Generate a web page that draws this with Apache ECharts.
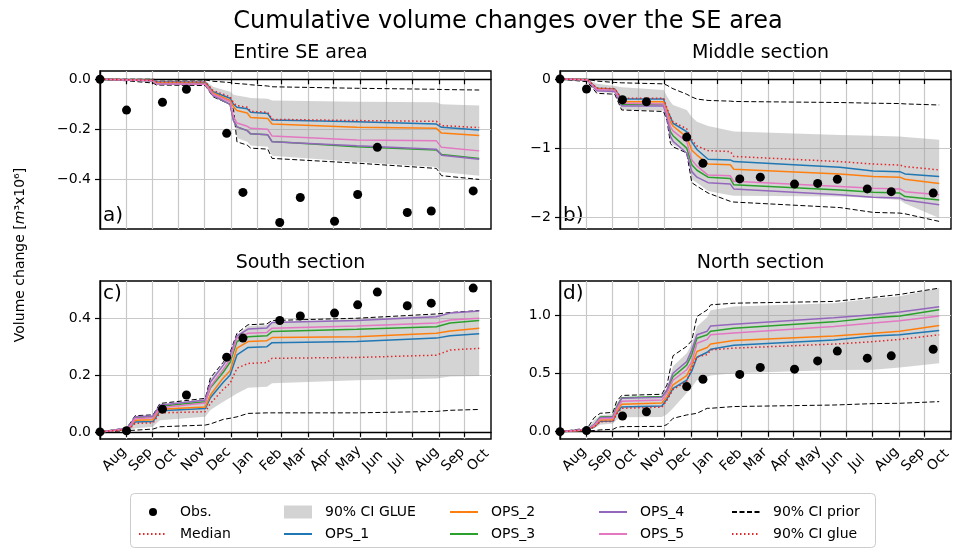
<!DOCTYPE html>
<html>
<head>
<meta charset="utf-8">
<script src="https://cdn.jsdelivr.net/npm/echarts@6/dist/echarts.min.js"></script>
<style>
  html, body { margin: 0; padding: 0; background: #fff; }
  #chart { width: 954px; height: 549px; }
</style>
</head>
<body>
<div id="chart"></div>
<script>
// month ticks on the shared time axis
const monthTicks = ['2021-08-01', '2021-09-01', '2021-10-01', '2021-11-01', '2021-12-01', '2022-01-01',
  '2022-02-01', '2022-03-01', '2022-04-01', '2022-05-01', '2022-06-01', '2022-07-01',
  '2022-08-01', '2022-09-01', '2022-10-01'];
const monthNames = ['Jan', 'Feb', 'Mar', 'Apr', 'May', 'Jun', 'Jul', 'Aug', 'Sep', 'Oct', 'Nov', 'Dec'];

// survey dates (Obs.)
const obsDates = ['2021-08-01', '2021-09-01', '2021-10-13', '2021-11-10', '2021-12-27', '2022-01-15',
  '2022-02-27', '2022-03-23', '2022-05-02', '2022-05-29', '2022-06-21', '2022-07-26', '2022-08-23', '2022-10-11'];

// a) Entire SE area
const obsA = [0, -0.123, -0.092, -0.04, -0.216, -0.452, -0.572, -0.472, -0.567, -0.46, -0.272, -0.532, -0.526, -0.446];
const datesA = ['2021-08-01', '2021-09-01', '2021-10-02', '2021-10-06', '2021-12-02', '2021-12-11', '2021-12-31',
  '2022-01-04', '2022-01-08', '2022-01-20', '2022-01-24', '2022-02-13', '2022-02-18', '2022-05-28',
  '2022-08-29', '2022-09-04', '2022-10-18'];
const ops1A = [0, -0.002, -0.004, -0.01, -0.012, -0.05, -0.076, -0.1, -0.112, -0.118, -0.132, -0.137, -0.163, -0.17, -0.179, -0.192, -0.203];
const ops2A = [0, -0.002, -0.005, -0.014, -0.016, -0.055, -0.085, -0.11, -0.125, -0.135, -0.153, -0.157, -0.179, -0.192, -0.196, -0.215, -0.225];
const ops3A = [0, -0.003, -0.006, -0.018, -0.02, -0.065, -0.1, -0.165, -0.19, -0.205, -0.218, -0.222, -0.249, -0.27, -0.283, -0.3, -0.316];
const ops4A = [0, -0.003, -0.006, -0.018, -0.02, -0.065, -0.1, -0.165, -0.19, -0.205, -0.218, -0.222, -0.25, -0.266, -0.28, -0.303, -0.319];
const ops5A = [0, -0.003, -0.006, -0.018, -0.02, -0.06, -0.09, -0.15, -0.175, -0.188, -0.196, -0.2, -0.227, -0.243, -0.246, -0.272, -0.286];
const medA = [0, -0.002, -0.004, -0.01, -0.01, -0.045, -0.07, -0.095, -0.105, -0.112, -0.128, -0.132, -0.16, -0.165, -0.168, -0.185, -0.193];
const priorHiA = [0, 0, 0, -0.002, -0.003, -0.008, -0.013, -0.016, -0.017, -0.02, -0.022, -0.027, -0.03, -0.036, -0.04, -0.041, -0.043];
const priorLoA = [0, -0.006, -0.015, -0.023, -0.025, -0.07, -0.1, -0.12, -0.25, -0.263, -0.275, -0.279, -0.316, -0.335, -0.356, -0.385, -0.4];
const glueHiA = [0, -0.001, -0.002, -0.005, -0.005, -0.03, -0.05, -0.062, -0.065, -0.072, -0.075, -0.078, -0.085, -0.09, -0.092, -0.1, -0.105];
const glueLoA = [0, -0.005, -0.012, -0.022, -0.024, -0.065, -0.095, -0.115, -0.235, -0.25, -0.265, -0.27, -0.305, -0.33, -0.35, -0.37, -0.385];

// b) Middle section
const obsB = [0, -0.145, -0.3, -0.33, -0.84, -1.22, -1.445, -1.42, -1.52, -1.51, -1.45, -1.59, -1.63, -1.65];
const datesB = ['2021-08-01', '2021-09-02', '2021-09-13', '2021-10-04', '2021-10-12', '2021-11-30', '2021-12-04',
  '2021-12-08', '2021-12-11', '2021-12-27', '2022-01-02', '2022-01-08', '2022-01-21', '2022-02-16',
  '2022-02-20', '2022-06-24', '2022-08-02', '2022-09-02', '2022-09-08', '2022-10-18'];
const ops1B = [0, -0.01, -0.135, -0.145, -0.29, -0.29, -0.45, -0.55, -0.64, -0.76, -0.91, -1.02, -1.16, -1.17, -1.195, -1.276, -1.33, -1.34, -1.373, -1.41];
const ops2B = [0, -0.01, -0.14, -0.15, -0.33, -0.33, -0.45, -0.62, -0.68, -0.84, -1.03, -1.1, -1.23, -1.24, -1.305, -1.373, -1.41, -1.42, -1.45, -1.51];
const ops3B = [0, -0.012, -0.15, -0.16, -0.37, -0.37, -0.52, -0.76, -0.82, -1.0, -1.24, -1.32, -1.42, -1.44, -1.53, -1.604, -1.64, -1.65, -1.7, -1.75];
const ops4B = [0, -0.015, -0.17, -0.18, -0.39, -0.39, -0.55, -0.83, -0.9, -1.07, -1.34, -1.42, -1.5, -1.52, -1.59, -1.676, -1.71, -1.72, -1.75, -1.82];
const ops5B = [0, -0.012, -0.15, -0.16, -0.35, -0.36, -0.5, -0.69, -0.75, -0.906, -1.17, -1.26, -1.39, -1.4, -1.48, -1.556, -1.58, -1.59, -1.63, -1.676];
const medB = [0, -0.01, -0.13, -0.14, -0.28, -0.28, -0.42, -0.55, -0.62, -0.72, -0.88, -0.968, -1.036, -1.05, -1.12, -1.195, -1.23, -1.245, -1.267, -1.315];
const priorHiB = [0, -0.005, -0.03, -0.05, -0.055, -0.07, -0.09, -0.12, -0.14, -0.22, -0.26, -0.29, -0.31, -0.32, -0.325, -0.34, -0.35, -0.355, -0.36, -0.376];
const priorLoB = [0, -0.04, -0.207, -0.22, -0.448, -0.47, -0.6, -0.93, -0.98, -1.07, -1.5, -1.55, -1.65, -1.77, -1.78, -1.86, -1.93, -1.94, -1.95, -2.06];
const glueHiB = [0, -0.005, -0.07, -0.1, -0.12, -0.16, -0.25, -0.33, -0.376, -0.45, -0.55, -0.617, -0.68, -0.75, -0.76, -0.81, -0.82, -0.83, -0.84, -0.88];
const glueLoB = [0, -0.035, -0.19, -0.2, -0.44, -0.46, -0.58, -0.9, -0.95, -1.04, -1.45, -1.5, -1.62, -1.68, -1.69, -1.7, -1.72, -1.75, -1.8, -2.01];

// c) South section
const obsC = [0, 0.004, 0.08, 0.13, 0.263, 0.33, 0.392, 0.408, 0.418, 0.447, 0.492, 0.444, 0.453, 0.506];
const datesC = ['2021-08-01', '2021-09-01', '2021-09-05', '2021-09-11', '2021-10-02', '2021-10-04', '2021-10-10',
  '2021-12-02', '2021-12-08', '2021-12-23', '2021-12-31', '2022-01-08', '2022-01-21', '2022-02-12',
  '2022-02-18', '2022-05-28', '2022-08-29', '2022-09-14', '2022-10-18'];
const ops1C = [0, 0.01, 0.016, 0.035, 0.037, 0.045, 0.074, 0.082, 0.12, 0.175, 0.2, 0.271, 0.297, 0.3, 0.314, 0.318, 0.33, 0.338, 0.345];
const ops2C = [0, 0.01, 0.018, 0.041, 0.043, 0.05, 0.08, 0.088, 0.13, 0.19, 0.215, 0.295, 0.318, 0.321, 0.332, 0.335, 0.347, 0.355, 0.365];
const ops3C = [0, 0.011, 0.022, 0.05, 0.053, 0.062, 0.09, 0.106, 0.155, 0.21, 0.245, 0.318, 0.335, 0.338, 0.353, 0.361, 0.37, 0.383, 0.392];
const ops4C = [0, 0.012, 0.025, 0.053, 0.056, 0.065, 0.094, 0.112, 0.175, 0.235, 0.27, 0.338, 0.362, 0.366, 0.385, 0.392, 0.405, 0.418, 0.425];
const ops5C = [0, 0.011, 0.02, 0.047, 0.05, 0.058, 0.085, 0.102, 0.16, 0.22, 0.255, 0.33, 0.347, 0.35, 0.365, 0.373, 0.383, 0.394, 0.4];
const medC = [0, 0.008, 0.012, 0.03, 0.032, 0.04, 0.067, 0.071, 0.1, 0.15, 0.171, 0.224, 0.241, 0.244, 0.259, 0.262, 0.27, 0.288, 0.294];
const priorHiC = [0, 0.014, 0.03, 0.057, 0.06, 0.07, 0.1, 0.118, 0.19, 0.245, 0.28, 0.347, 0.377, 0.38, 0.392, 0.4, 0.415, 0.42, 0.427];
const priorLoC = [0, 0.004, 0.005, 0.006, 0.01, 0.012, 0.018, 0.024, 0.028, 0.044, 0.048, 0.053, 0.065, 0.067, 0.067, 0.067, 0.072, 0.076, 0.079];
const glueHiC = [0, 0.013, 0.028, 0.055, 0.058, 0.067, 0.097, 0.115, 0.186, 0.24, 0.275, 0.342, 0.372, 0.376, 0.388, 0.397, 0.412, 0.418, 0.425];
const glueLoC = [0, 0.006, 0.008, 0.012, 0.018, 0.025, 0.041, 0.053, 0.077, 0.106, 0.12, 0.135, 0.155, 0.159, 0.171, 0.182, 0.188, 0.195, 0.197];

// d) North section
const obsD = [0, 0.009, 0.134, 0.17, 0.386, 0.449, 0.49, 0.55, 0.535, 0.606, 0.69, 0.629, 0.649, 0.706];
const datesD = ['2021-08-01', '2021-09-02', '2021-09-10', '2021-09-17', '2021-10-02', '2021-10-06', '2021-10-12',
  '2021-11-28', '2021-12-04', '2021-12-11', '2021-12-27', '2022-01-02', '2022-01-08', '2022-01-20',
  '2022-01-24', '2022-02-20', '2022-06-17', '2022-08-02', '2022-09-02', '2022-10-18'];
const ops1D = [0, 0.015, 0.04, 0.09, 0.092, 0.16, 0.21, 0.22, 0.28, 0.37, 0.44, 0.52, 0.637, 0.68, 0.705, 0.74, 0.785, 0.82, 0.83, 0.866];
const ops2D = [0, 0.015, 0.045, 0.1, 0.102, 0.17, 0.235, 0.245, 0.3, 0.4, 0.48, 0.57, 0.686, 0.72, 0.75, 0.78, 0.82, 0.843, 0.86, 0.908];
const ops3D = [0, 0.02, 0.06, 0.125, 0.13, 0.21, 0.29, 0.3, 0.35, 0.47, 0.57, 0.66, 0.8, 0.83, 0.86, 0.885, 0.94, 0.975, 0.99, 1.043];
const ops4D = [0, 0.02, 0.06, 0.12, 0.125, 0.2, 0.285, 0.295, 0.36, 0.5, 0.6, 0.7, 0.83, 0.86, 0.905, 0.92, 0.975, 1.0, 1.025, 1.07];
const ops5D = [0, 0.018, 0.055, 0.11, 0.115, 0.19, 0.26, 0.27, 0.33, 0.44, 0.53, 0.6, 0.757, 0.79, 0.83, 0.845, 0.9, 0.93, 0.95, 0.99];
const medD = [0, 0.014, 0.04, 0.085, 0.088, 0.15, 0.2, 0.21, 0.27, 0.36, 0.43, 0.55, 0.64, 0.66, 0.7, 0.715, 0.75, 0.771, 0.79, 0.829];
const priorHiD = [0, 0.03, 0.12, 0.157, 0.165, 0.257, 0.31, 0.32, 0.4, 0.65, 0.73, 0.78, 0.986, 1.043, 1.086, 1.1, 1.115, 1.15, 1.175, 1.229];
const priorLoD = [0, 0.005, 0.01, 0.015, 0.02, 0.035, 0.043, 0.045, 0.06, 0.114, 0.143, 0.15, 0.157, 0.2, 0.2, 0.215, 0.228, 0.24, 0.243, 0.257];
const glueHiD = [0, 0.025, 0.1, 0.14, 0.15, 0.24, 0.29, 0.3, 0.37, 0.56, 0.671, 0.75, 0.9, 0.98, 1.04, 1.071, 1.1, 1.14, 1.16, 1.229];
const glueLoD = [0, 0.01, 0.03, 0.06, 0.07, 0.1, 0.123, 0.125, 0.15, 0.2, 0.33, 0.38, 0.443, 0.471, 0.48, 0.5, 0.528, 0.53, 0.55, 0.586];

// y ticks per panel
const yTicksA = [-0.4, -0.2, 0];
const yTicksB = [-2, -1, 0];
const yTicksC = [0, 0.2, 0.4];
const yTicksD = [0, 0.5, 1.0];

const opsNames = ['OPS_1', 'OPS_2', 'OPS_3', 'OPS_4', 'OPS_5'];
const opsColors = ['#1f77b4', '#ff7f0e', '#2ca02c', '#9467bd', '#e377c2'];

function toTime(s) {
  const p = s.split('-');
  return Date.UTC(+p[0], +p[1] - 1, +p[2]);
}

const panels = [
  { title: 'Entire SE area', tag: 'a)', dates: datesA, obs: obsA, med: medA, ops: [ops1A, ops2A, ops3A, ops4A, ops5A],
    priorHi: priorHiA, priorLo: priorLoA, glueHi: glueHiA, glueLo: glueLoA, ticks: yTicksA, dec: 1, min: -0.598, max: 0.033 },
  { title: 'Middle section', tag: 'b)', dates: datesB, obs: obsB, med: medB, ops: [ops1B, ops2B, ops3B, ops4B, ops5B],
    priorHi: priorHiB, priorLo: priorLoB, glueHi: glueHiB, glueLo: glueLoB, ticks: yTicksB, dec: 0, min: -2.17, max: 0.116 },
  { title: 'South section', tag: 'c)', dates: datesC, obs: obsC, med: medC, ops: [ops1C, ops2C, ops3C, ops4C, ops5C],
    priorHi: priorHiC, priorLo: priorLoC, glueHi: glueHiC, glueLo: glueLoC, ticks: yTicksC, dec: 1, min: -0.025, max: 0.531 },
  { title: 'North section', tag: 'd)', dates: datesD, obs: obsD, med: medD, ops: [ops1D, ops2D, ops3D, ops4D, ops5D],
    priorHi: priorHiD, priorLo: priorLoD, glueHi: glueHiD, glueLo: glueLoD, ticks: yTicksD, dec: 1, min: -0.063, max: 1.29 }
];

const gridPos = [
  { left: 100, top: 71 }, { left: 560, top: 71 },
  { left: 100, top: 281 }, { left: 560, top: 281 }
];
const gridW = 391, gridH = 158;
const xMin = toTime('2021-08-01');
const xMax = toTime('2022-10-31') + 19 * 3600 * 1000;
const tickTimes = monthTicks.map(toTime);
const font = 'DejaVu Sans';
const bandFill = 'rgba(160,160,160,0.45)';

const grids = [], xAxes = [], yAxes = [], series = [], titles = [], texts = [];

titles.push({
  text: 'Cumulative volume changes over the SE area', left: 503, top: 5, textAlign: 'center',
  textStyle: { fontSize: 24, fontWeight: 'normal', color: '#000', fontFamily: font }
});

panels.forEach((p, i) => {
  const g = gridPos[i];
  grids.push({ left: g.left, top: g.top, width: gridW, height: gridH, show: true,
    borderColor: '#000', borderWidth: 1.4, backgroundColor: 'transparent' });
  xAxes.push({
    type: 'value', gridIndex: i, min: xMin, max: xMax,
    axisLine: { show: true, lineStyle: { color: '#000', width: 1.4 } },
    axisTick: { show: true, customValues: tickTimes, length: 5, lineStyle: { color: '#000', width: 1.2 } },
    axisLabel: {
      show: i >= 2, customValues: tickTimes, rotate: 45, align: 'left', verticalAlign: 'top', margin: 25,
      fontSize: 14, color: '#000', fontFamily: font,
      formatter: v => monthNames[new Date(v).getUTCMonth()]
    },
    splitLine: { show: true, lineStyle: { color: '#c8c8c8', width: 1.2 } }
  });
  yAxes.push({
    type: 'value', gridIndex: i, min: p.min, max: p.max,
    axisLine: { show: true, lineStyle: { color: '#000', width: 1.4 } },
    axisTick: { show: true, customValues: p.ticks, length: 5, lineStyle: { color: '#000', width: 1.2 } },
    axisLabel: {
      customValues: p.ticks, fontSize: 14, color: '#000', fontFamily: font, margin: 9,
      formatter: v => v.toFixed(p.dec).replace('-', '\u2212')
    },
    splitLine: { show: true, lineStyle: { color: '#c8c8c8', width: 1.2 } }
  });
  titles.push({
    text: p.title, left: g.left + gridW / 2, top: g.top - 32, textAlign: 'center',
    textStyle: { fontSize: 19, fontWeight: 'normal', color: '#000', fontFamily: font }
  });
  const tagTop = i < 2;
  texts.push({
    type: 'text', left: g.left + 3, top: tagTop ? g.top + gridH - 23 : g.top + 3,
    style: { text: p.tag, fontSize: 20, fill: '#000', fontFamily: font }
  });

  const t = p.dates.map(toTime);
  // 90% CI GLUE band as one polygon between glueLo and glueHi
  series.push({
    name: '90% CI GLUE', type: 'custom', xAxisIndex: i, yAxisIndex: i, silent: true, clip: true, z: 1,
    color: '#d3d3d3',
    data: t.map((d, k) => [d, p.glueLo[k], p.glueHi[k]]),
    encode: { x: 0, y: [1, 2] },
    renderItem: (params, api) => {
      if (params.dataIndex !== 0) return null;
      const upper = t.map((d, k) => api.coord([d, p.glueHi[k]]));
      const lower = t.map((d, k) => api.coord([d, p.glueLo[k]])).reverse();
      return { type: 'polygon', shape: { points: upper.concat(lower) }, style: { fill: bandFill } };
    }
  });
  [p.priorHi, p.priorLo].forEach(arr => {
    series.push({
      name: '90% CI prior', type: 'line', xAxisIndex: i, yAxisIndex: i, symbol: 'none', color: '#000',
      lineStyle: { color: '#000', width: 1, type: [5, 2.5] }, data: t.map((d, k) => [d, arr[k]]), z: 2
    });
  });
  p.ops.forEach((arr, j) => {
    series.push({
      name: opsNames[j], type: 'line', xAxisIndex: i, yAxisIndex: i, symbol: 'none', color: opsColors[j],
      lineStyle: { color: opsColors[j], width: 1.5 }, data: t.map((d, k) => [d, arr[k]]), z: 3
    });
  });
  series.push({
    name: 'Median', type: 'line', xAxisIndex: i, yAxisIndex: i, symbol: 'none', color: '#e3262a',
    lineStyle: { color: '#e3262a', width: 1.5, type: [1.5, 2.5] }, data: t.map((d, k) => [d, p.med[k]]), z: 4
  });
  series.push({
    name: 'Obs.', type: 'scatter', xAxisIndex: i, yAxisIndex: i, symbol: 'circle', symbolSize: 9,
    color: '#000', itemStyle: { color: '#000', opacity: 1 }, data: obsDates.map((d, k) => [toTime(d), p.obs[k]]), z: 5
  });
});

// legend-only entry (not visible in panels)
series.push({
  name: '90% CI glue', type: 'line', xAxisIndex: 0, yAxisIndex: 0, symbol: 'none', color: '#e3262a',
  lineStyle: { color: '#e3262a', width: 1.5, type: [1.5, 2.5] }, data: []
});

texts.push({
  type: 'text', x: 20, y: 255, rotation: Math.PI / 2,
  style: {
    text: 'Volume change [{i|m}\u00b3x10\u2076]', fontSize: 14, fill: '#000', fontFamily: font,
    align: 'center', verticalAlign: 'middle',
    rich: { i: { fontStyle: 'italic', fontSize: 14, fontFamily: font } }
  }
});
texts.unshift({
  type: 'rect', shape: { x: 130.5, y: 493.5, width: 745, height: 54, r: 4 },
  style: { fill: '#fff', stroke: '#cccccc', lineWidth: 1 }, z: -1
});

const shown = { opacity: 1 };
const legendCols = [
  { left: 133, data: [{ name: 'Obs.', itemStyle: shown }, 'Median'] },
  { left: 278, data: [{ name: '90% CI GLUE', icon: 'rect', itemStyle: { color: '#d3d3d3', opacity: 1 } }, 'OPS_1'] },
  { left: 444, data: ['OPS_2', 'OPS_3'] },
  { left: 593, data: ['OPS_4', 'OPS_5'] },
  { left: 726, data: ['90% CI prior', '90% CI glue'] }
];
const legends = legendCols.map((c, i) => ({
  orient: 'vertical', left: c.left, top: 500, itemWidth: 28, itemHeight: i === 0 ? 8 : 13, itemGap: 8,
  selectedMode: false, data: c.data,
  itemStyle: { opacity: 0 },
  textStyle: { fontSize: 14, color: '#000', fontFamily: font, padding: [0, 0, 0, 8] }
}));

const chart = echarts.init(document.getElementById('chart'), null, { renderer: 'canvas' });
chart.setOption({
  animation: false,
  backgroundColor: '#fff',
  textStyle: { fontFamily: font },
  title: titles,
  legend: legends,
  grid: grids,
  xAxis: xAxes,
  yAxis: yAxes,
  series: series,
  graphic: texts
});
</script>
</body>
</html>
